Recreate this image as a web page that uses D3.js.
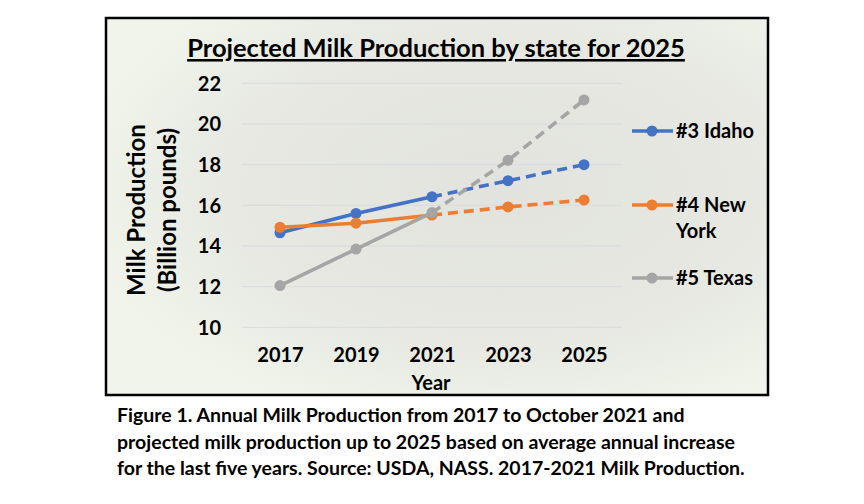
<!DOCTYPE html>
<html>
<head>
<meta charset="utf-8">
<script src="https://cdn.jsdelivr.net/npm/d3@7"></script>
<style>
  body { margin: 0; background: #fff; }
  svg text { font-family: Lato, "Open Sans", sans-serif; font-weight: bold; fill: #000; }
</style>
</head>
<body>
<script>
var WIDTH = 864,
    HEIGHT = 504;

// data
var years = ["2017", "2019", "2021", "2023", "2025"];
var idaho = [14.65, 15.6, 16.42, 17.21, 18.0];
var newYork = [14.92, 15.12, 15.52, 15.92, 16.26];
var texas = [12.05, 13.85, 15.64, 18.21, 21.18];
var yTicks = [10, 12, 14, 16, 18, 20, 22];
var seriesNames = ["#3 Idaho", "#4 New York", "#5 Texas"];
var seriesColors = ["#4472C4", "#ED7D31", "#A5A5A5"];
var lastActual = 2; // index of 2021, after that the values are projected
var captionLines = [
  "Figure 1. Annual Milk Production from 2017 to October 2021 and",
  "projected milk production up to 2025 based on average annual increase",
  "for the last five years. Source: USDA, NASS. 2017-2021 Milk Production."
];

var series = [idaho, newYork, texas];

var svg = d3.select("body").append("svg")
    .attr("width", WIDTH)
    .attr("height", HEIGHT);

var defs = svg.append("defs");
var grad = defs.append("radialGradient")
    .attr("id", "bg")
    .attr("cx", "60%").attr("cy", "45%").attr("r", "65%");
grad.append("stop").attr("offset", "0%").attr("stop-color", "#e2e3de");
grad.append("stop").attr("offset", "60%").attr("stop-color", "#e6e8e1");
grad.append("stop").attr("offset", "100%").attr("stop-color", "#f0f4ea");

// framed chart area
svg.append("rect")
    .attr("x", 106)
    .attr("y", 18)
    .attr("width", 662)
    .attr("height", 377)
    .attr("fill", "url(#bg)")
    .attr("stroke", "#000")
    .attr("stroke-width", 2.5);

svg.append("text")
    .attr("x", 436)
    .attr("y", 57)
    .attr("text-anchor", "middle")
    .style("font-size", "25.5px")
    .style("text-decoration", "underline")
    .text("Projected Milk Production by state for 2025");

var x = d3.scalePoint()
    .domain(years)
    .range([242, 622])
    .padding(0.5);

var y = d3.scaleLinear()
    .domain([10, 22])
    .range([327.3, 83.3]);

// gridlines
svg.append("g")
  .selectAll("line")
  .data(yTicks)
  .enter().append("line")
    .attr("x1", 242)
    .attr("x2", 622)
    .attr("y1", function(d){ return y(d); })
    .attr("y2", function(d){ return y(d); })
    .attr("stroke", "#d9dbdf")
    .attr("stroke-width", 1);

var yAxis = svg.append("g")
    .attr("transform", "translate(242,0)")
    .call(d3.axisLeft(y).tickValues(yTicks).tickSize(0).tickPadding(21));
yAxis.select(".domain").remove();
yAxis.selectAll("text").style("font-size", "20px").attr("dy", "0.35em");

var xAxis = svg.append("g")
    .attr("transform", "translate(0,342)")
    .call(d3.axisBottom(x).tickSize(0).tickPadding(6));
xAxis.select(".domain").remove();
xAxis.selectAll("text").style("font-size", "20px");

svg.append("text")
    .attr("x", 431)
    .attr("y", 390)
    .attr("text-anchor", "middle")
    .style("font-size", "20px")
    .text("Year");

var yTitle = svg.append("text")
    .attr("transform", "translate(145,210) rotate(-90)")
    .attr("text-anchor", "middle")
    .style("font-size", "24px");
yTitle.append("tspan").attr("x", 0).attr("dy", 0).text("Milk Production");
yTitle.append("tspan").attr("x", 0).attr("dy", "1.3em").text("(Billion pounds)");

var line = d3.line()
    .x(function(d){ return x(d.year); })
    .y(function(d){ return y(d.value); });

series.forEach(function(values, s){
  var pts = values.map(function(v, i){ return {year: years[i], value: v}; });
  var g = svg.append("g");

  g.append("path")
      .datum(pts.slice(0, lastActual + 1))
      .attr("d", line)
      .attr("fill", "none")
      .attr("stroke", seriesColors[s])
      .attr("stroke-width", 3.6);

  g.append("path")
      .datum(pts.slice(lastActual))
      .attr("d", line)
      .attr("fill", "none")
      .attr("stroke", seriesColors[s])
      .attr("stroke-width", 3.6)
      .attr("stroke-dasharray", "10,6");

  g.selectAll("circle")
    .data(pts)
    .enter().append("circle")
      .attr("cx", function(d){ return x(d.year); })
      .attr("cy", function(d){ return y(d.value); })
      .attr("r", 5.5)
      .attr("fill", seriesColors[s]);
});

// legend
var legendY = [131, 205, 278];
var legend = svg.append("g");
seriesNames.forEach(function(name, i){
  var g = legend.append("g").attr("transform", "translate(0," + legendY[i] + ")");
  g.append("line")
      .attr("x1", 632).attr("x2", 673)
      .attr("stroke", seriesColors[i])
      .attr("stroke-width", 3.6);
  g.append("circle")
      .attr("cx", 652)
      .attr("r", 5.5)
      .attr("fill", seriesColors[i]);
  var t = g.append("text")
      .attr("x", 676)
      .attr("dy", "0.35em")
      .style("font-size", "20px");
  if (name === "#4 New York") {
    t.append("tspan").attr("x", 676).text("#4 New");
    t.append("tspan").attr("x", 676).attr("dy", "1.3em").text("York");
  } else {
    t.text(name);
  }
});

// caption under the frame
svg.append("g")
  .selectAll("text")
  .data(captionLines)
  .enter().append("text")
    .attr("x", 117)
    .attr("y", function(d, i){ return 422 + i * 26.5; })
    .style("font-size", "19.5px")
    .text(function(d){ return d; });
</script>
</body>
</html>
